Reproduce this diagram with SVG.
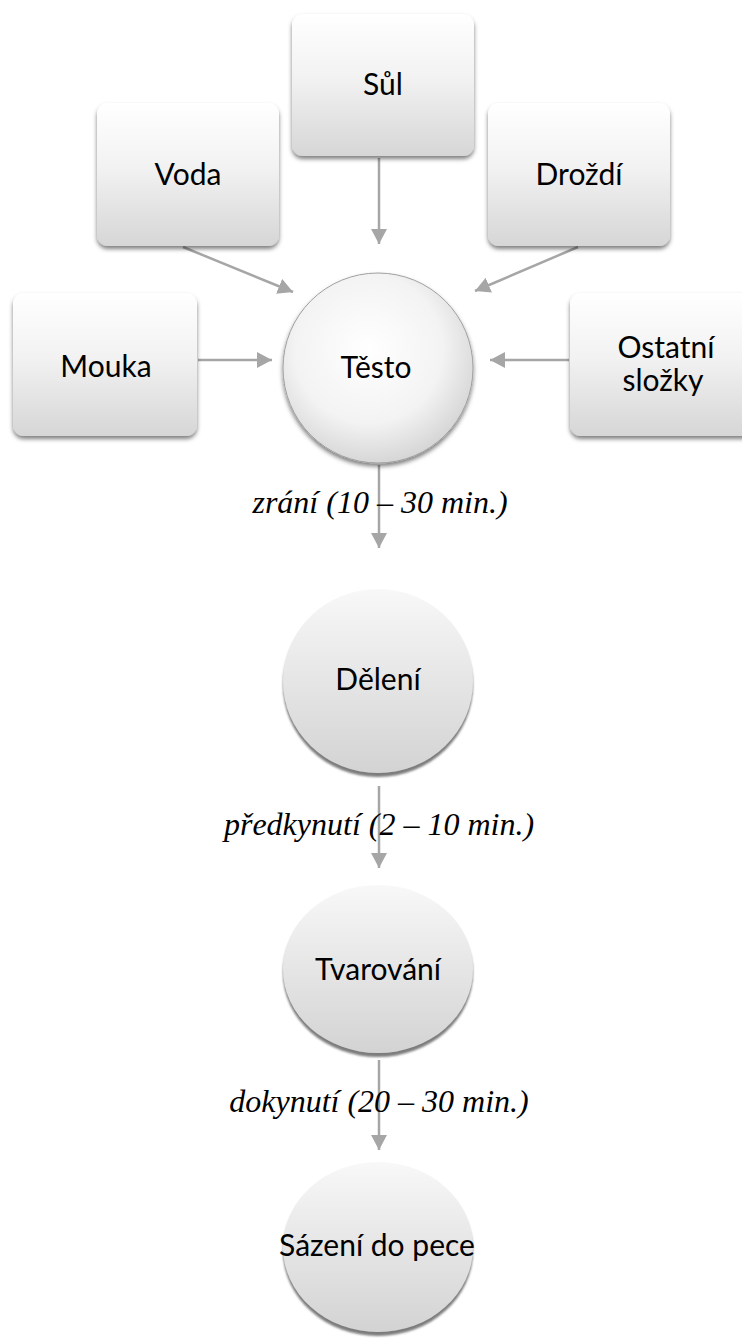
<svg xmlns="http://www.w3.org/2000/svg" width="742" height="1339" viewBox="0 0 742 1339">
  <style>
    .lbl { font-family: Lato, "Open Sans", sans-serif; font-size: 30px; fill: #000; text-anchor: middle; }
    .step { font-family: "Liberation Serif", "Times New Roman", serif; font-style: italic; font-size: 32px; fill: #000; text-anchor: middle; }
    .box { fill: url(#boxFill); filter: url(#boxShadow); }
    .ball { fill: url(#ballFill); filter: url(#ballShadow); }
    .conn line { stroke: #a6a6a6; stroke-width: 2.5; marker-end: url(#arrow); }
  </style>
  <defs>
    <linearGradient id="boxFill" x1="0" y1="0" x2="0" y2="1">
      <stop offset="0" stop-color="#ffffff"/>
      <stop offset="0.45" stop-color="#f2f2f2"/>
      <stop offset="1" stop-color="#d6d6d6"/>
    </linearGradient>
    <linearGradient id="ballFill" x1="0" y1="0" x2="0" y2="1">
      <stop offset="0" stop-color="#f8f8f8"/>
      <stop offset="1" stop-color="#d3d3d3"/>
    </linearGradient>
    <radialGradient id="doughFill" cx="0.45" cy="0.4" r="0.65">
      <stop offset="0" stop-color="#ffffff"/>
      <stop offset="0.6" stop-color="#f3f3f3"/>
      <stop offset="1" stop-color="#d0d0d0"/>
    </radialGradient>
    <filter id="boxShadow" x="-10%" y="-10%" width="120%" height="125%">
      <feDropShadow dx="0" dy="3" stdDeviation="2" flood-color="#000" flood-opacity="0.5"/>
    </filter>
    <filter id="ballShadow" x="-10%" y="-10%" width="120%" height="125%">
      <feDropShadow dx="0" dy="4" stdDeviation="1" flood-color="#6e6e6e" flood-opacity="0.9"/>
    </filter>
    <marker id="arrow" markerUnits="userSpaceOnUse" markerWidth="16" markerHeight="16" refX="15" refY="8" orient="auto">
      <path d="M0,0 L15,8 L0,16 Z" fill="#a6a6a6"/>
    </marker>
  </defs>

  <rect width="742" height="1339" fill="#ffffff"/>

  <!-- connectors -->
  <g id="connectors" class="conn">
    <line x1="379" y1="158" x2="379" y2="244"/>
    <line x1="183" y1="247" x2="293" y2="292"/>
    <line x1="578" y1="247" x2="475" y2="291"/>
    <line x1="198" y1="360" x2="272" y2="360"/>
    <line x1="569" y1="360" x2="490" y2="360"/>
    <line x1="379" y1="465" x2="379" y2="548"/>
    <line x1="379" y1="786" x2="379" y2="868"/>
    <line x1="379" y1="1060" x2="379" y2="1150"/>
  </g>

  <!-- ingredient boxes -->
  <g id="sul">
    <rect class="box" x="292" y="14" width="182" height="142" rx="11"/>
    <text class="lbl" x="383" y="95">Sůl</text>
  </g>
  <g id="voda">
    <rect class="box" x="97" y="103" width="182" height="143" rx="11"/>
    <text class="lbl" x="188" y="185">Voda</text>
  </g>
  <g id="drozdi">
    <rect class="box" x="488" y="103" width="182" height="143" rx="11"/>
    <text class="lbl" x="579" y="185">Droždí</text>
  </g>
  <g id="mouka">
    <rect class="box" x="13" y="293" width="184" height="143" rx="11"/>
    <text class="lbl" x="106" y="377">Mouka</text>
  </g>
  <g id="ostatni">
    <rect class="box" x="570" y="293" width="184" height="143" rx="11"/>
    <text class="lbl" x="666" y="358">Ostatní</text>
    <text class="lbl" x="663" y="391">složky</text>
  </g>

  <!-- dough -->
  <g id="testo">
    <circle cx="378" cy="368" r="95" fill="url(#doughFill)" stroke="#a0a0a0" stroke-width="1" filter="url(#boxShadow)"/>
    <text class="lbl" x="376" y="378">Těsto</text>
  </g>

  <!-- processing steps -->
  <g id="deleni">
    <ellipse class="ball" cx="378" cy="681" rx="95" ry="92"/>
    <text class="lbl" x="378" y="690">Dělení</text>
  </g>
  <g id="tvarovani">
    <ellipse class="ball" cx="378" cy="969" rx="95" ry="84"/>
    <text class="lbl" x="378" y="980">Tvarování</text>
  </g>
  <g id="sazeni">
    <ellipse class="ball" cx="378" cy="1247" rx="95" ry="85"/>
    <text class="lbl" x="377" y="1256" font-size="29">Sázení do pece</text>
  </g>

  <!-- step labels -->
  <g id="labels">
    <text class="step" x="380" y="513">zrání (10 – 30 min.)</text>
    <text class="step" x="379" y="835">předkynutí (2 – 10 min.)</text>
    <text class="step" x="379" y="1112">dokynutí (20 – 30 min.)</text>
  </g>
</svg>
